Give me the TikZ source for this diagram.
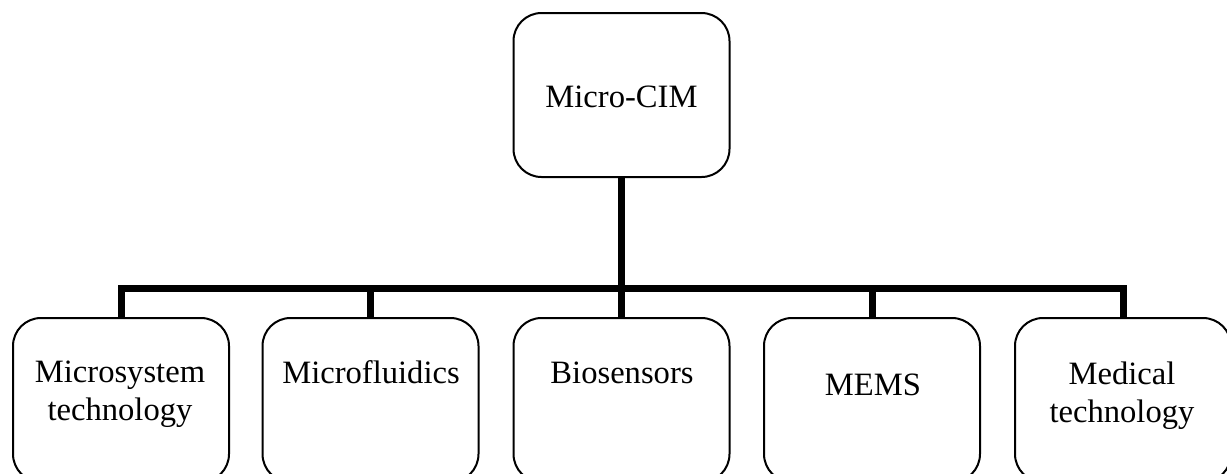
\documentclass[tikz,border=0pt]{standalone}
\usepackage{fontspec}
\setmainfont{Liberation Serif}
\begin{document}
\begin{tikzpicture}[x=0.5pt,y=-0.5pt,
  box/.style={draw, line width=1pt, rounded corners=14pt, minimum width=108pt, minimum height=82pt, inner sep=0pt},
  conn/.style={line width=3.5pt},
  lbl/.style={font=\fontsize{16.3}{19}\selectfont, align=center, inner sep=0pt, anchor=base}]
\useasboundingbox (0,0) rectangle (1227,473);
\clip (0,0) rectangle (1227,473);
\node[box] (top) at (621.5,95) {};
\node[box] (b1) at (121,400) {};
\node[box] (b2) at (370.5,400) {};
\node[box] (b3) at (621.5,400) {};
\node[box] (b4) at (872,400) {};
\node[box] (b5) at (1123,400) {};
\coordinate (bar) at (621.5,288);
\draw[conn] (top.south) -- (bar);
\draw[conn] (b1.north) |- (bar) -| (b5.north);
\draw[conn] (b2.north) -- (b2.north |- bar);
\draw[conn] (b3.north) -- (b3.north |- bar);
\draw[conn] (b4.north) -- (b4.north |- bar);
\node[lbl] (t0) at (621.5,107) {Micro-CIM};
\node[lbl] (t1) at (120,420) {Microsystem\\technology};
\node[lbl] (t2) at (371,383) {Microfluidics};
\node[lbl] (t3) at (622,383) {Biosensors};
\node[lbl] (t4) at (873,395) {MEMS};
\node[lbl] (t5) at (1122,422) {Medical\\technology};
\end{tikzpicture}
\end{document}
